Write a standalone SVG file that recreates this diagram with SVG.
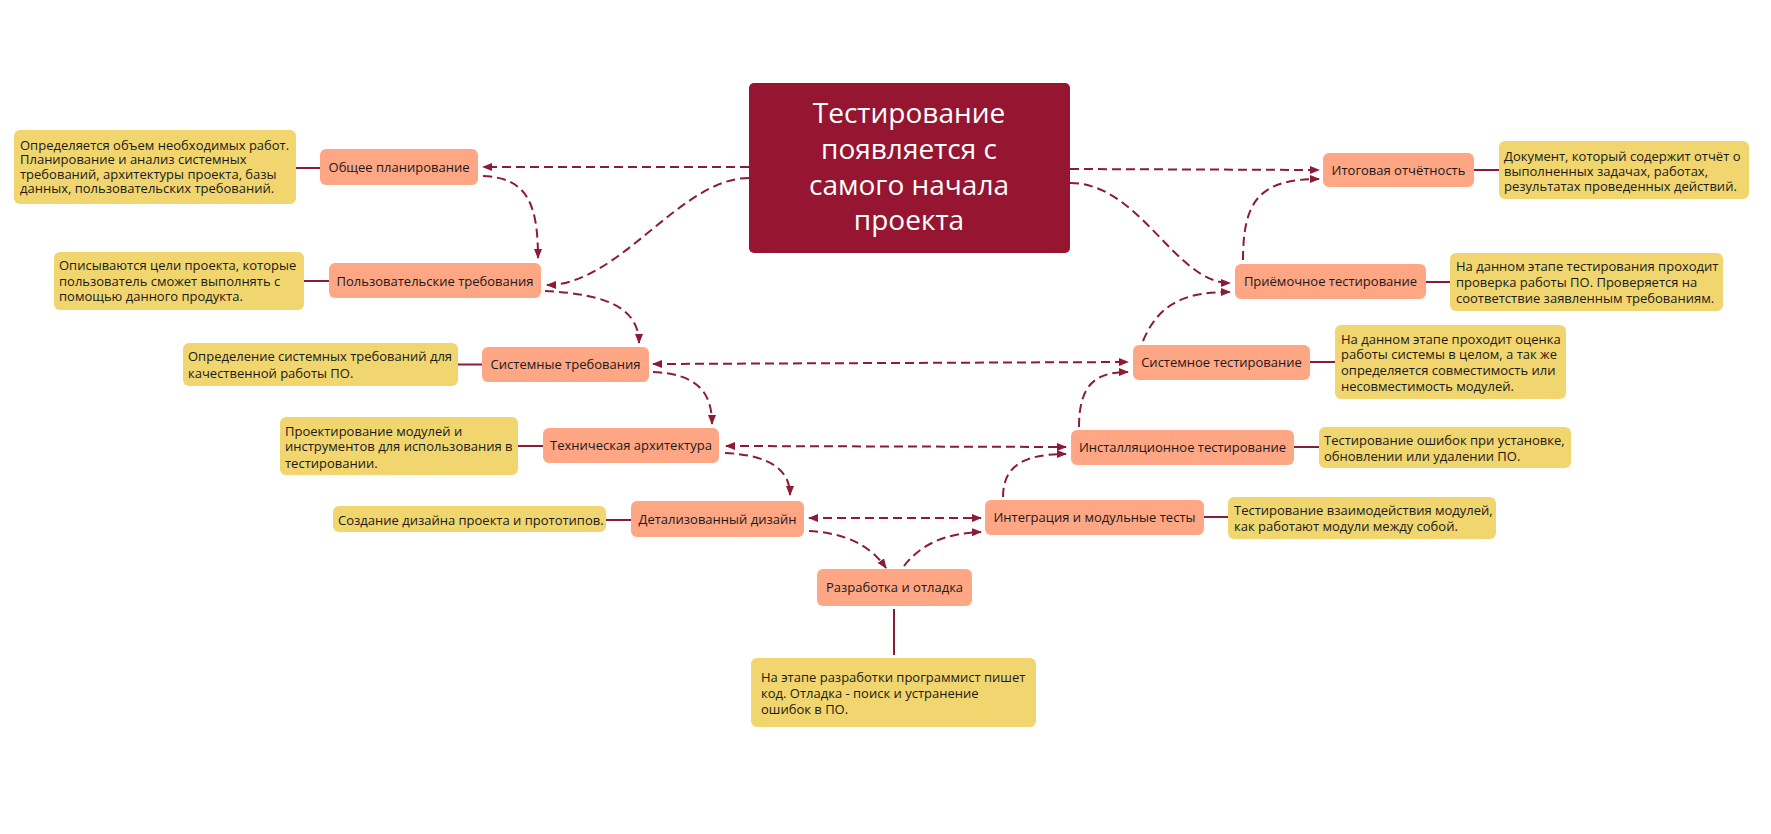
<svg xmlns="http://www.w3.org/2000/svg" width="1771" height="834" viewBox="0 0 1771 834">
<defs>
<style>
.bg{fill:#ffffff}
.center rect{fill:#961530}
.center text{fill:#ffffff;font-family:"Open Sans","Noto Sans",sans-serif;font-size:28px;text-anchor:middle}
.node rect{fill:#FFA685}
.node text{fill:#1a1a1a;font-family:"Open Sans","Noto Sans",sans-serif;font-size:13px;text-anchor:middle}
.note rect{fill:#F1D66F}
.note text{fill:#1a1a1a;font-family:"Open Sans","Noto Sans",sans-serif;font-size:13px}
.solid{stroke:#8C1C36;stroke-width:2;fill:none}
.dash{stroke:#8C1C36;stroke-width:2;fill:none;stroke-dasharray:9 5;marker-end:url(#arr)}
.both{marker-start:url(#arr)}
</style>
<marker id="arr" viewBox="0 0 10 8" refX="9" refY="4" markerWidth="10" markerHeight="8" markerUnits="userSpaceOnUse" orient="auto-start-reverse">
<path d="M0,0 L10,4 L0,8 z" fill="#8C1C36"/>
</marker>
</defs>
<rect class="bg" x="0" y="0" width="1771" height="834"/>

<g id="connectors">
<line class="solid" x1="296" y1="168" x2="320" y2="168"/>
<line class="solid" x1="304" y1="281" x2="329" y2="281"/>
<line class="solid" x1="458" y1="364.5" x2="482" y2="364.5"/>
<line class="solid" x1="518" y1="446" x2="543" y2="446"/>
<line class="solid" x1="606" y1="520" x2="631" y2="520"/>
<line class="solid" x1="894" y1="609" x2="894" y2="655"/>
<line class="solid" x1="1204" y1="517" x2="1228" y2="517"/>
<line class="solid" x1="1294" y1="447" x2="1319" y2="447"/>
<line class="solid" x1="1310" y1="362" x2="1335" y2="362"/>
<line class="solid" x1="1426" y1="282" x2="1450" y2="282"/>
<line class="solid" x1="1474" y1="170" x2="1499" y2="170"/>

<path class="dash" d="M749,167 L483,167"/>
<path class="dash" d="M749,178 C680,178 620,285 547,285"/>
<path class="dash" d="M483,176 C525,178 538,200 538,258"/>
<path class="dash" d="M545,291 C610,294 639,310 639,343"/>
<path class="dash both" d="M653,364 L1128,362"/>
<path class="dash" d="M653,372 C695,374 712,390 712,424"/>
<path class="dash both" d="M726,446 L1066,447"/>
<path class="dash" d="M725,453 C770,455 790,470 790,495"/>
<path class="dash both" d="M809,518 L981,518"/>
<path class="dash" d="M809,531 C845,533 870,545 886,568"/>
<path class="dash" d="M904,566 C920,545 945,533 981,532"/>
<path class="dash" d="M1003,497 C1003,465 1025,454 1066,454"/>
<path class="dash" d="M1079,427 C1079,385 1095,372 1128,372"/>
<path class="dash" d="M1143,341 C1160,300 1190,292 1230,292"/>
<path class="dash" d="M1243,260 C1243,200 1260,179 1319,179"/>
<path class="dash" d="M1070,169 L1319,170"/>
<path class="dash" d="M1070,183 C1140,183 1175,283 1230,283"/>
</g>

<g id="center" class="center">
<rect x="749" y="83" width="321" height="170" rx="5"/>
<text x="909" y="123">Тестирование</text>
<text x="909" y="159">появляется с</text>
<text x="909" y="195">самого начала</text>
<text x="909" y="230">проекта</text>
</g>

<g id="n-planning" class="node"><rect x="320" y="149" width="158" height="36" rx="6"/><text x="399" y="172">Общее планирование</text></g>
<g id="n-user-req" class="node"><rect x="329" y="263" width="212" height="35" rx="6"/><text x="435" y="285.5">Пользовательские требования</text></g>
<g id="n-sys-req" class="node"><rect x="482" y="347" width="167" height="35" rx="6"/><text x="565.5" y="369">Системные требования</text></g>
<g id="n-tech-arch" class="node"><rect x="543" y="428" width="176" height="35" rx="6"/><text x="631" y="450">Техническая архитектура</text></g>
<g id="n-design" class="node"><rect x="631" y="501" width="173" height="36" rx="6"/><text x="717.5" y="523.5">Детализованный дизайн</text></g>
<g id="n-dev" class="node"><rect x="817" y="569" width="155" height="37" rx="6"/><text x="894.5" y="592">Разработка и отладка</text></g>
<g id="n-integration" class="node"><rect x="985" y="500" width="219" height="35" rx="6"/><text x="1094.5" y="522">Интеграция и модульные тесты</text></g>
<g id="n-install" class="node"><rect x="1071" y="430" width="223" height="35" rx="6"/><text x="1182.5" y="452">Инсталляционное тестирование</text></g>
<g id="n-sys-test" class="node"><rect x="1133" y="345" width="177" height="35" rx="6"/><text x="1221.5" y="367">Системное тестирование</text></g>
<g id="n-acceptance" class="node"><rect x="1235" y="264" width="191" height="35" rx="6"/><text x="1330.5" y="286">Приёмочное тестирование</text></g>
<g id="n-report" class="node"><rect x="1323" y="153" width="151" height="34" rx="6"/><text x="1398.5" y="174.5">Итоговая отчётность</text></g>

<g id="note-planning" class="note"><rect x="14" y="130" width="282" height="74" rx="6"/>
<text x="20" y="149.5">Определяется объем необходимых работ.</text>
<text x="20" y="164">Планирование и анализ системных</text>
<text x="20" y="178.5">требований, архитектуры проекта, базы</text>
<text x="20" y="193">данных, пользовательских требований.</text></g>
<g id="note-user-req" class="note"><rect x="54" y="252" width="250" height="58" rx="6"/>
<text x="59" y="270">Описываются цели проекта, которые</text>
<text x="59" y="285.5">пользователь сможет выполнять с</text>
<text x="59" y="301">помощью данного продукта.</text></g>
<g id="note-sys-req" class="note"><rect x="183" y="343" width="275" height="43" rx="6"/>
<text x="188" y="361">Определение системных требований для</text>
<text x="188" y="377.5">качественной работы ПО.</text></g>
<g id="note-tech-arch" class="note"><rect x="280" y="417" width="238" height="58" rx="6"/>
<text x="285" y="435.5">Проектирование модулей и</text>
<text x="285" y="451">инструментов для использования в</text>
<text x="285" y="467.5">тестировании.</text></g>
<g id="note-design" class="note"><rect x="333" y="506" width="273" height="26" rx="6"/>
<text x="338" y="524.5">Создание дизайна проекта и прототипов.</text></g>
<g id="note-dev" class="note"><rect x="751" y="658" width="285" height="69" rx="6"/>
<text x="761" y="681.5">На этапе разработки программист пишет</text>
<text x="761" y="697.5">код. Отладка - поиск и устранение</text>
<text x="761" y="713.5">ошибок в ПО.</text></g>
<g id="note-integration" class="note"><rect x="1228" y="497" width="268" height="42" rx="6"/>
<text x="1234" y="514.5">Тестирование взаимодействия модулей,</text>
<text x="1234" y="530.5">как работают модули между собой.</text></g>
<g id="note-install" class="note"><rect x="1319" y="427" width="252" height="41" rx="6"/>
<text x="1324" y="444.5">Тестирование ошибок при установке,</text>
<text x="1324" y="460.5">обновлении или удалении ПО.</text></g>
<g id="note-sys-test" class="note"><rect x="1335" y="325" width="231" height="74" rx="6"/>
<text x="1341" y="343.5">На данном этапе проходит оценка</text>
<text x="1341" y="359">работы системы в целом, а так же</text>
<text x="1341" y="375">определяется совместимость или</text>
<text x="1341" y="391">несовместимость модулей.</text></g>
<g id="note-acceptance" class="note"><rect x="1450" y="253" width="273" height="58" rx="6"/>
<text x="1456" y="271">На данном этапе тестирования проходит</text>
<text x="1456" y="286.5">проверка работы ПО. Проверяется на</text>
<text x="1456" y="302.5">соответствие заявленным требованиям.</text></g>
<g id="note-report" class="note"><rect x="1499" y="141" width="250" height="58" rx="6"/>
<text x="1504" y="160.5">Документ, который содержит отчёт о</text>
<text x="1504" y="175.5">выполненных задачах, работах,</text>
<text x="1504" y="191">результатах проведенных действий.</text></g>
</svg>
